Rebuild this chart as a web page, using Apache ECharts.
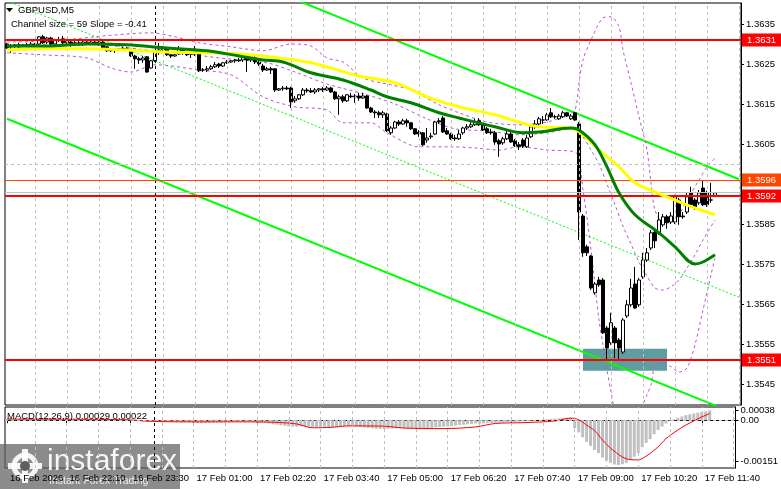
<!DOCTYPE html>
<html>
<head>
<meta charset="utf-8">
<script src="https://cdn.jsdelivr.net/npm/echarts@6.0.0/dist/echarts.min.js"></script>
<style>
html,body{margin:0;padding:0;background:#ffffff;}
#chart{width:781px;height:489px;}
</style>
</head>
<body>
<div id="chart"></div>
<script>
// ---------------- data ----------------
const slotCount = 184;
const tickIndex = [0,15,31,47,63,79,95,111,127,143,159,175];
const tickLabels = ["16 Feb 2026","16 Feb 22:10","16 Feb 23:30","17 Feb 01:00","17 Feb 02:20","17 Feb 03:40","17 Feb 05:00","17 Feb 06:20","17 Feb 07:40","17 Feb 09:00","17 Feb 10:20","17 Feb 11:40"];
const priceGrid = [1.3545,1.3555,1.3565,1.3575,1.3585,1.3595,1.3605,1.3615,1.3625,1.3635];
const priceLabels = [1.3545,1.3555,1.3565,1.3575,1.3585,1.3605,1.3615,1.3625,1.3635];
const timeGrid = [7,15,23,31,39,47,55,63,71,79,87,95,103,111,119,127,135,143,151,159,167,175,183];
const separatorSlot = 37;

// [open, close, low, high]
const candles = [
[1.36300,1.36290,1.36288,1.36303],[1.36293,1.36295,1.36278,1.36300],[1.36295,1.36298,1.36290,1.36300],[1.36298,1.36293,1.36290,1.36303],
[1.36295,1.36298,1.36293,1.36300],[1.36298,1.36295,1.36293,1.36303],[1.36295,1.36300,1.36293,1.36305],[1.36300,1.36298,1.36295,1.36303],
[1.36300,1.36318,1.36298,1.36320],[1.36318,1.36303,1.36300,1.36323],[1.36305,1.36315,1.36300,1.36318],[1.36315,1.36300,1.36298,1.36318],
[1.36300,1.36310,1.36298,1.36313],[1.36310,1.36310,1.36305,1.36318],[1.36313,1.36303,1.36300,1.36320],[1.36303,1.36308,1.36298,1.36313],
[1.36305,1.36300,1.36293,1.36310],[1.36300,1.36303,1.36295,1.36308],[1.36303,1.36298,1.36295,1.36310],[1.36298,1.36305,1.36295,1.36310],
[1.36305,1.36300,1.36298,1.36310],[1.36300,1.36305,1.36298,1.36308],[1.36305,1.36303,1.36300,1.36310],[1.36303,1.36305,1.36295,1.36310],
[1.36305,1.36290,1.36288,1.36310],[1.36293,1.36283,1.36280,1.36295],[1.36283,1.36285,1.36280,1.36290],[1.36285,1.36285,1.36278,1.36290],
[1.36285,1.36288,1.36283,1.36290],[1.36288,1.36285,1.36283,1.36293],[1.36285,1.36288,1.36283,1.36293],[1.36285,1.36270,1.36268,1.36288],
[1.36270,1.36263,1.36238,1.36273],[1.36263,1.36260,1.36250,1.36268],[1.36260,1.36265,1.36253,1.36270],[1.36268,1.36230,1.36228,1.36270],
[1.36240,1.36258,1.36238,1.36260],[1.36258,1.36280,1.36255,1.36285],[1.36280,1.36285,1.36273,1.36303],[1.36285,1.36290,1.36280,1.36295],
[1.36290,1.36273,1.36270,1.36293],[1.36273,1.36270,1.36265,1.36275],[1.36270,1.36273,1.36268,1.36275],[1.36275,1.36288,1.36273,1.36295],
[1.36288,1.36278,1.36273,1.36290],[1.36280,1.36273,1.36270,1.36283],[1.36275,1.36275,1.36265,1.36280],[1.36285,1.36275,1.36270,1.36295],
[1.36275,1.36233,1.36230,1.36278],[1.36235,1.36235,1.36230,1.36240],[1.36235,1.36238,1.36230,1.36245],[1.36238,1.36243,1.36235,1.36248],
[1.36243,1.36248,1.36240,1.36255],[1.36250,1.36245,1.36240,1.36253],[1.36245,1.36253,1.36243,1.36255],[1.36253,1.36255,1.36250,1.36260],
[1.36255,1.36258,1.36253,1.36260],[1.36258,1.36260,1.36253,1.36263],[1.36260,1.36258,1.36255,1.36265],[1.36260,1.36268,1.36255,1.36273],
[1.36268,1.36260,1.36230,1.36273],[1.36260,1.36263,1.36255,1.36268],[1.36265,1.36255,1.36250,1.36270],[1.36255,1.36250,1.36245,1.36260],
[1.36245,1.36235,1.36230,1.36250],[1.36235,1.36238,1.36233,1.36243],[1.36238,1.36235,1.36225,1.36243],[1.36238,1.36185,1.36180,1.36240],
[1.36185,1.36188,1.36183,1.36190],[1.36188,1.36190,1.36183,1.36195],[1.36190,1.36188,1.36185,1.36195],[1.36190,1.36155,1.36140,1.36193],
[1.36158,1.36163,1.36153,1.36170],[1.36163,1.36173,1.36160,1.36175],[1.36173,1.36185,1.36170,1.36190],[1.36185,1.36183,1.36178,1.36190],
[1.36183,1.36180,1.36178,1.36190],[1.36180,1.36185,1.36175,1.36190],[1.36185,1.36188,1.36180,1.36190],[1.36188,1.36185,1.36180,1.36193],
[1.36185,1.36190,1.36183,1.36195],[1.36190,1.36180,1.36178,1.36193],[1.36180,1.36163,1.36160,1.36183],[1.36163,1.36168,1.36123,1.36173],
[1.36168,1.36158,1.36153,1.36173],[1.36158,1.36173,1.36155,1.36175],[1.36170,1.36168,1.36165,1.36178],[1.36168,1.36170,1.36153,1.36175],
[1.36170,1.36165,1.36158,1.36178],[1.36165,1.36170,1.36163,1.36178],[1.36170,1.36140,1.36138,1.36173],[1.36140,1.36130,1.36128,1.36143],
[1.36130,1.36128,1.36115,1.36135],[1.36128,1.36123,1.36115,1.36133],[1.36123,1.36128,1.36115,1.36133],[1.36125,1.36083,1.36080,1.36128],
[1.36078,1.36090,1.36073,1.36095],[1.36090,1.36105,1.36088,1.36108],[1.36105,1.36100,1.36095,1.36110],[1.36100,1.36108,1.36098,1.36113],
[1.36108,1.36103,1.36093,1.36113],[1.36103,1.36088,1.36085,1.36105],[1.36088,1.36075,1.36073,1.36090],[1.36080,1.36075,1.36068,1.36085],
[1.36078,1.36048,1.36045,1.36080],[1.36060,1.36065,1.36053,1.36090],[1.36068,1.36070,1.36063,1.36078],[1.36075,1.36105,1.36073,1.36108],
[1.36108,1.36105,1.36100,1.36115],[1.36115,1.36080,1.36078,1.36120],[1.36083,1.36075,1.36073,1.36090],[1.36075,1.36063,1.36060,1.36078],
[1.36065,1.36063,1.36058,1.36073],[1.36063,1.36075,1.36060,1.36085],[1.36078,1.36090,1.36073,1.36093],[1.36090,1.36093,1.36085,1.36100],
[1.36093,1.36098,1.36090,1.36105],[1.36098,1.36105,1.36095,1.36113],[1.36108,1.36098,1.36095,1.36115],[1.36098,1.36085,1.36083,1.36100],
[1.36088,1.36078,1.36075,1.36093],[1.36080,1.36078,1.36073,1.36088],[1.36078,1.36055,1.36048,1.36083],[1.36058,1.36050,1.36018,1.36063],
[1.36053,1.36063,1.36048,1.36068],[1.36063,1.36075,1.36060,1.36085],[1.36075,1.36055,1.36053,1.36080],[1.36058,1.36045,1.36043,1.36063],
[1.36048,1.36043,1.36035,1.36055],[1.36060,1.36045,1.36040,1.36065],[1.36043,1.36065,1.36040,1.36073],[1.36068,1.36093,1.36065,1.36098],
[1.36093,1.36100,1.36088,1.36110],[1.36100,1.36113,1.36095,1.36118],[1.36110,1.36110,1.36100,1.36120],[1.36110,1.36123,1.36108,1.36128],
[1.36128,1.36118,1.36115,1.36140],[1.36118,1.36118,1.36113,1.36123],[1.36113,1.36120,1.36110,1.36125],[1.36118,1.36128,1.36115,1.36133],
[1.36128,1.36120,1.36118,1.36130],[1.36113,1.36120,1.36110,1.36125],[1.36128,1.36110,1.36108,1.36130],[1.36100,1.35880,1.35810,1.36105],
[1.35870,1.35778,1.35768,1.35875],[1.35793,1.35778,1.35770,1.35798],[1.35770,1.35690,1.35685,1.35773],[1.35678,1.35700,1.35673,1.35705],
[1.35710,1.35698,1.35693,1.35718],[1.35710,1.35578,1.35575,1.35715],[1.35590,1.35540,1.35510,1.35595],[1.35553,1.35603,1.35548,1.35628],
[1.35590,1.35553,1.35515,1.35595],[1.35560,1.35540,1.35510,1.35565],[1.35530,1.35610,1.35525,1.35615],[1.35620,1.35648,1.35615,1.35660],
[1.35648,1.35690,1.35643,1.35713],[1.35700,1.35640,1.35638,1.35743],[1.35648,1.35710,1.35643,1.35715],[1.35718,1.35760,1.35713,1.35778],
[1.35760,1.35778,1.35755,1.35790],[1.35790,1.35828,1.35785,1.35835],[1.35830,1.35808,1.35790,1.35835],[1.35828,1.35860,1.35823,1.35880],
[1.35848,1.35868,1.35843,1.35875],[1.35868,1.35853,1.35838,1.35873],[1.35855,1.35870,1.35850,1.35880],[1.35855,1.35918,1.35850,1.35923],
[1.35910,1.35868,1.35848,1.35915],[1.35870,1.35868,1.35863,1.35880],[1.35880,1.35918,1.35875,1.35930],[1.35928,1.35898,1.35893,1.35943],
[1.35910,1.35890,1.35885,1.35915],[1.35903,1.35928,1.35898,1.35935],[1.35940,1.35898,1.35895,1.35960],[1.35928,1.35898,1.35893,1.35933],
[1.35910,1.35910,1.35903,1.35953],[1.35920,1.35928,1.35918,1.35930]
];

// moving averages [slot, price]
const maYellow = [[0,1.36285],[10,1.36288],[20,1.36288],[30,1.36285],[40,1.36280],[50,1.36278],[58,1.36275],[64,1.36270],[76,1.36253],[88,1.36220],[97,1.36203],[105,1.36168],[113,1.36143],[122,1.36123],[133,1.36093],[141,1.36090],[144,1.36073],[148,1.36035],[153,1.35993],[157,1.35953],[162,1.35930],[167,1.35910],[172,1.35890],[177,1.35873]];
const maGreen = [[0,1.36295],[10,1.36295],[20,1.36300],[30,1.36298],[40,1.36290],[50,1.36283],[58,1.36270],[64,1.36260],[69,1.36255],[76,1.36228],[84,1.36210],[91,1.36185],[95,1.36168],[101,1.36153],[108,1.36128],[113,1.36115],[122,1.36093],[129,1.36078],[133,1.36080],[141,1.36090],[143,1.36085],[147,1.36048],[150,1.35993],[153,1.35928],[157,1.35873],[163,1.35828],[167,1.35793],[172,1.35750],[174,1.35755],[177,1.35773]];
// bollinger bands [slot, price]
const bandUpper = [[0,1.36305],[12,1.36308],[24,1.36320],[36,1.36328],[42,1.36318],[48,1.36303],[56,1.36293],[64,1.36283],[71,1.36300],[76,1.36295],[80,1.36265],[84,1.36255],[89,1.36215],[96,1.36198],[101,1.36185],[108,1.36148],[113,1.36128],[120,1.36105],[128,1.36098],[135,1.36105],[140,1.36123],[142,1.36135],[143,1.36203],[144,1.36260],[146,1.36310],[149,1.36365],[151,1.36368],[153,1.36343],[154,1.36285],[156,1.36203],[158,1.36118],[160,1.36035],[161,1.35953],[162,1.35885],[164,1.35855],[167,1.35860],[170,1.35910],[173,1.35960],[175,1.35993],[177,1.36015]];
const bandMiddle = [[0,1.36295],[20,1.36300],[35,1.36285],[45,1.36275],[55,1.36263],[65,1.36253],[72,1.36230],[80,1.36200],[90,1.36173],[97,1.36150],[105,1.36113],[112,1.36088],[120,1.36083],[128,1.36073],[135,1.36078],[142,1.36090],[144,1.36068],[146,1.36035],[148,1.36000],[150,1.35950],[152,1.35898],[154,1.35845],[156,1.35800],[158,1.35755],[160,1.35720],[162,1.35690],[164,1.35685],[166,1.35693],[168,1.35710],[170,1.35740],[172,1.35773],[174,1.35810],[177,1.35860]];
const bandLower = [[0,1.36278],[9,1.36273],[20,1.36265],[26,1.36240],[31,1.36230],[37,1.36248],[48,1.36235],[56,1.36223],[64,1.36168],[72,1.36143],[80,1.36135],[84,1.36103],[91,1.36103],[95,1.36078],[103,1.36043],[111,1.36043],[117,1.36040],[123,1.36035],[128,1.36043],[135,1.36035],[142,1.36030],[144,1.35935],[146,1.35785],[148,1.35610],[149,1.35548],[150,1.35485],[151,1.35430],[152,1.35380],[155,1.35310],[158,1.35360],[159,1.35398],[160,1.35423],[161,1.35448],[162,1.35495],[164,1.35503],[166,1.35493],[168,1.35480],[170,1.35490],[172,1.35548],[174,1.35635],[176,1.35723],[177,1.35765]];
// regression channel [slot, price]
const channelUpper = [[0,1.36703],[183,1.35962]];
const channelMiddle = [[0,1.36408],[183,1.35667]];
const channelLower = [[0,1.36113],[183,1.35372]];
// horizontal levels
const levelPrices = [1.3631,1.3596,1.3593,1.3592,1.3551];
const levelTagged = [true,true,false,true,true];
const levelColors = ['#ff0000','#ff4500','#c0c0c0','#ff0000','#ff0000'];
const levelWidths = [2,1,1,2,2];
// zone rectangle
const zoneSlots = [144,165];
const zonePrices = [1.35538,1.35483];
// MACD
const macdHist = [
0.00004,0.00004,0.00004,0.00004,0.00004,0.00004,0.00004,0.00004,0.00004,0.00004,
0.00003,0.00003,0.00003,0.00003,0.00003,0.00003,0.00003,0.00003,0.00003,0.00003,
0.00002,0.00002,0.00002,0.00002,0.00002,0.00002,0.00002,0.00002,0.00002,0.00002,
0.00000,-0.00001,-0.00002,-0.00004,-0.00004,-0.00004,-0.00004,
-0.00005,-0.00006,-0.00007,-0.00006,-0.00005,-0.00006,-0.00007,-0.00008,-0.00007,
-0.00008,-0.00009,-0.00010,-0.00011,-0.00010,-0.00009,-0.00009,-0.00008,-0.00008,-0.00007,
-0.00006,-0.00006,-0.00005,-0.00005,-0.00006,-0.00006,-0.00007,
-0.00008,-0.00009,-0.00010,-0.00012,
-0.00015,-0.00017,-0.00019,
-0.00021,-0.00023,-0.00024,-0.00024,-0.00023,-0.00023,
-0.00024,-0.00025,-0.00025,-0.00024,-0.00024,-0.00025,-0.00026,
-0.00026,-0.00025,-0.00023,-0.00022,-0.00022,-0.00023,
-0.00025,-0.00027,-0.00029,-0.00030,-0.00032,-0.00033,-0.00033,-0.00032,
-0.00031,-0.00030,-0.00029,-0.00029,-0.00030,-0.00031,-0.00031,-0.00032,-0.00031,-0.00030,-0.00028,-0.00026,-0.00025,-0.00024,
-0.00023,-0.00022,-0.00020,-0.00018,-0.00017,-0.00015,
-0.00014,-0.00012,-0.00012,-0.00011,-0.00010,-0.00010,-0.00010,-0.00009,-0.00008,
-0.00007,-0.00007,-0.00006,-0.00005,-0.00004,-0.00003,-0.00002,-0.00001,0.00000,
0.00002,0.00004,0.00005,0.00006,0.00007,0.00008,0.00009,0.00009,
-0.00030,-0.00045,-0.00063,-0.00080,-0.00095,-0.00110,-0.00122,-0.00138,-0.00150,-0.00158,
-0.00164,-0.00166,-0.00163,-0.00158,-0.00148,-0.00135,-0.00122,-0.00100,-0.00084,-0.00070,
-0.00052,-0.00036,-0.00024,-0.00012,-0.00004,0.00003,0.00009,0.00014,0.00019,0.00022,
0.00025,0.00028,0.00030,0.00033,0.00036
];
const macdSignal = [[0,0.00004],[30,0.00002],[36,-0.00004],[45,-0.00006],[60,-0.00006],[68,-0.00008],[73,-0.00014],[77,-0.00028],[82,-0.00026],[86,-0.00021],[95,-0.00022],[100,-0.00029],[110,-0.00031],[118,-0.00025],[123,-0.00012],[130,-0.00009],[138,-0.00003],[142,0.00008],[144,0.00002],[146,-0.00018],[148,-0.00038],[150,-0.00073],[152,-0.00103],[155,-0.00136],[157,-0.00146],[159,-0.00147],[161,-0.00133],[164,-0.00099],[166,-0.00068],[169,-0.00036],[171,-0.00018],[174,0.00005],[177,0.00025]];
const macdLabels = [0.00038,0,-0.00151];

// ---------------- chart ----------------
const FONT = 'Liberation Sans';
const cats = Array.from({length: slotCount}, (_, i) => String(i));
const tickSet = new Set(tickIndex);
const labelMap = {};
tickIndex.forEach((t, k) => labelMap[t] = tickLabels[k]);

const chart = echarts.init(document.getElementById('chart'), null, {renderer: 'canvas'});

const gridLineStyle = {color: '#c0c0c0', type: [3, 3], width: 1};
const bandStyle = {color: '#ba55d3', width: 1, type: [3, 3]};

const option = {
  animation: false,
  backgroundColor: '#ffffff',
  textStyle: {fontFamily: FONT},
  grid: [
    {left: 5, right: 40, top: 3, height: 402, show: true, borderColor: '#000', borderWidth: 1, backgroundColor: '#fff'},
    {left: 5, right: 40, top: 407, height: 61, show: true, borderColor: '#000', borderWidth: 1, backgroundColor: '#fff'}
  ],
  xAxis: [
    {type: 'category', gridIndex: 0, data: cats, boundaryGap: true,
     axisLine: {show: false}, axisTick: {show: false}, axisLabel: {show: false}, splitLine: {show: false}},
    {type: 'category', gridIndex: 1, data: cats, boundaryGap: true,
     axisLine: {show: true, lineStyle: {color: '#000', width: 1}},
     axisTick: {show: true, alignWithLabel: true, length: 3, interval: (i) => tickSet.has(i), lineStyle: {color: '#000'}},
     axisLabel: {show: true, interval: (i) => tickSet.has(i), formatter: (v, i) => labelMap[+v] || '', align: 'left',
                 padding: [0, 0, 0, 3], fontSize: 9.5, color: '#000', margin: 5, fontFamily: FONT},
     splitLine: {show: false}}
  ],
  yAxis: [
    {type: 'value', gridIndex: 0, position: 'right', min: 1.353975, max: 1.364025,
     axisLine: {show: true, lineStyle: {color: '#000'}},
     axisTick: {show: true, length: 3, customValues: priceLabels, lineStyle: {color: '#000'}},
     axisLabel: {show: true, customValues: priceLabels, formatter: (v) => v.toFixed(4), fontSize: 9.5, color: '#000', margin: 5, fontFamily: FONT},
     splitLine: {show: false}},
    {type: 'value', gridIndex: 1, position: 'right', min: -0.00177, max: 0.00049,
     axisLine: {show: true, lineStyle: {color: '#000'}},
     axisTick: {show: true, length: 3, customValues: macdLabels, lineStyle: {color: '#000'}},
     axisLabel: {show: true, customValues: macdLabels, formatter: (v) => (v === 0 ? '0.00' : v.toFixed(5)),
                 fontSize: 9.5, color: '#000', margin: 5, fontFamily: FONT, hideOverlap: false},
     splitLine: {show: false}}
  ],
  series: [
    // grid lines, main panel
    {type: 'line', xAxisIndex: 0, yAxisIndex: 0, data: [], silent: true, z: 1,
     markLine: {symbol: ['none', 'none'], silent: true, animation: false, label: {show: false},
       data: priceGrid.map(p => ({yAxis: p, lineStyle: gridLineStyle}))
         .concat(timeGrid.map(s => ({xAxis: String(s), lineStyle: gridLineStyle})))
         .concat([{xAxis: String(separatorSlot), lineStyle: {color: '#000', type: [3, 3], width: 1}}])}},
    // grid lines, MACD panel
    {type: 'line', xAxisIndex: 1, yAxisIndex: 1, data: [], silent: true, z: 1,
     markLine: {symbol: ['none', 'none'], silent: true, animation: false, label: {show: false},
       data: timeGrid.map(s => ({xAxis: String(s), lineStyle: gridLineStyle}))
         .concat([{yAxis: 0, lineStyle: gridLineStyle}])
         .concat([{xAxis: String(separatorSlot), lineStyle: {color: '#000', type: [3, 3], width: 1}}])}},
    // channel
    {type: 'line', xAxisIndex: 0, yAxisIndex: 0, data: channelUpper, symbol: 'none', z: 2, silent: true,
     lineStyle: {color: '#00ff00', width: 2}},
    {type: 'line', xAxisIndex: 0, yAxisIndex: 0, data: channelLower, symbol: 'none', z: 2, silent: true,
     lineStyle: {color: '#00ff00', width: 2}},
    {type: 'line', xAxisIndex: 0, yAxisIndex: 0, data: channelMiddle, symbol: 'none', z: 2, silent: true,
     lineStyle: {color: '#00ff00', width: 1, type: [2, 2]}},
    // bands
    {type: 'line', xAxisIndex: 0, yAxisIndex: 0, data: bandUpper, symbol: 'none', smooth: 0.3, z: 3, silent: true, lineStyle: bandStyle},
    {type: 'line', xAxisIndex: 0, yAxisIndex: 0, data: bandMiddle, symbol: 'none', smooth: 0.3, z: 3, silent: true, lineStyle: bandStyle},
    {type: 'line', xAxisIndex: 0, yAxisIndex: 0, data: bandLower, symbol: 'none', smooth: 0.3, z: 3, silent: true, lineStyle: bandStyle},
    // candles + levels + zone
    {type: 'candlestick', name: 'GBPUSD', xAxisIndex: 0, yAxisIndex: 0, data: candles, barWidth: 3, z: 4,
     itemStyle: {color: '#ffffff', color0: '#000000', borderColor: '#000000', borderColor0: '#000000', borderWidth: 1},
     markArea: {silent: true, itemStyle: {color: '#5f9ea0', opacity: 1},
       data: [[{xAxis: String(zoneSlots[0]), yAxis: zonePrices[0]}, {xAxis: String(zoneSlots[1]), yAxis: zonePrices[1]}]]},
     markLine: {symbol: ['none', 'none'], silent: true, animation: false, precision: 4,
       data: levelPrices.map((p, k) => ({yAxis: p,
         lineStyle: {color: levelColors[k], width: levelWidths[k], type: 'solid'},
         label: levelTagged[k] ? {show: true, position: 'end', formatter: p.toFixed(4), color: '#fff',
           backgroundColor: levelColors[k], padding: [2, 6, 1, 5], fontSize: 9.5, distance: 1, fontFamily: FONT} : {show: false}}))}},
    // moving averages
    {type: 'line', xAxisIndex: 0, yAxisIndex: 0, data: maYellow, symbol: 'none', smooth: 0.35, z: 5, silent: true,
     lineStyle: {color: '#ffff00', width: 3}},
    {type: 'line', xAxisIndex: 0, yAxisIndex: 0, data: maGreen, symbol: 'none', smooth: 0.35, z: 6, silent: true,
     lineStyle: {color: '#008000', width: 3}},
    // MACD
    {type: 'bar', xAxisIndex: 1, yAxisIndex: 1, data: macdHist, barWidth: 3, itemStyle: {color: '#c0c0c0'}, z: 3, silent: true},
    {type: 'line', xAxisIndex: 1, yAxisIndex: 1, data: macdSignal, symbol: 'none', smooth: 0.3, z: 4, silent: true,
     lineStyle: {color: '#ff0000', width: 1}}
  ],
  graphic: [
    {type: 'polygon', shape: {points: [[6, 8], [13, 8], [9.5, 12]]}, style: {fill: '#000'}, z: 100},
    {type: 'text', left: 18, top: 5, style: {text: 'GBPUSD,M5', font: '9.5px "Liberation Sans"', fill: '#000'}, z: 100},
    {type: 'text', left: 11, top: 19, style: {text: 'Channel size = 59 Slope = -0.41', font: '9.5px "Liberation Sans"', fill: '#000'}, z: 100},
    {type: 'text', left: 7, top: 411, style: {text: 'MACD(12,26,9) 0.00029 0.00022', font: '9.5px "Liberation Sans"', fill: '#000'}, z: 100},
    // watermark
    {type: 'group', left: 0, top: 444, z: 200, children: [
      {type: 'rect', shape: {x: 0, y: 0, width: 180, height: 45}, style: {fill: 'rgba(95,95,95,0.72)'}},
      {type: 'circle', shape: {cx: 25, cy: 22, r: 11}, style: {fill: 'none', stroke: 'rgba(255,255,255,0.9)', lineWidth: 5}},
      {type: 'rect', shape: {x: 22, y: 5, width: 6, height: 34}, style: {fill: 'rgba(255,255,255,0.9)'}},
      {type: 'rect', shape: {x: 8, y: 19, width: 34, height: 6}, style: {fill: 'rgba(255,255,255,0.9)'}},
      {type: 'circle', shape: {cx: 25, cy: 22, r: 5}, style: {fill: 'rgba(95,95,95,1)'}},
      {type: 'text', left: 47, top: 3, style: {text: 'instaforex', font: '30px "Liberation Sans"', fill: 'rgba(255,255,255,0.92)'}},
      {type: 'text', left: 49, top: 32, style: {text: 'Instant Forex Trading', font: '10.5px "Liberation Sans"', fill: 'rgba(255,255,255,0.85)'}}
    ]}
  ]
};
chart.setOption(option);
</script>
</body>
</html>
